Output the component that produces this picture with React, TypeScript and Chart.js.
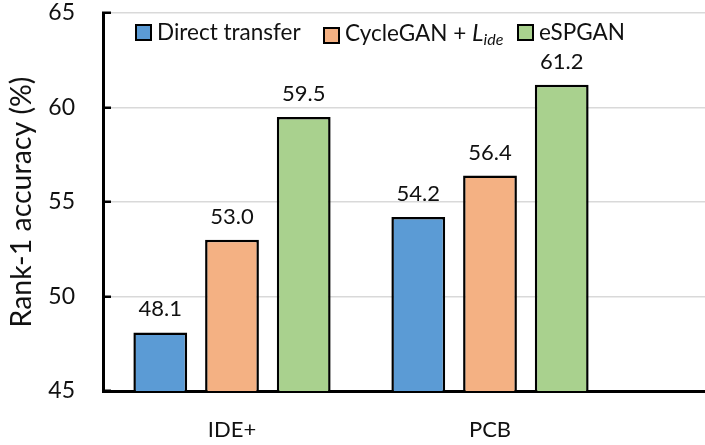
import React, { useEffect, useRef } from "react";
import { Chart, registerables } from "chart.js";

Chart.register(...registerables);

const categories = ["IDE+", "PCB"];
const seriesNames = ["Direct transfer", "CycleGAN +", "eSPGAN"];
const directTransfer = [48.1, 54.2];
const cycleGanLide = [53.0, 56.4];
const espgan = [59.5, 61.2];
const yMin = 45;
const yMax = 65;
const yStep = 5;
const yTitle = "Rank-1 accuracy (%)";

const colors = ["#5b9bd5", "#f4b183", "#a9d18e"];
const FONT = "Lato, 'Open Sans', sans-serif";
const W = 705;
const H = 445;

const alignPx = (p: number, w: number) => Math.round(p - w / 2) + w / 2;

const extendPlugin = {
  id: "extendGrid",
  beforeDatasetsDraw(chart: any) {
    const { ctx, chartArea } = chart;
    const y = chart.scales.y;
    ctx.save();
    ctx.strokeStyle = "#d9d9d9";
    ctx.lineWidth = 1.5;
    y.ticks.forEach((t: any) => {
      if (t.value === y.min) return;
      const py = alignPx(y.getPixelForValue(t.value), 1.5);
      ctx.beginPath();
      ctx.moveTo(chartArea.right, py);
      ctx.lineTo(chart.width, py);
      ctx.stroke();
    });
    ctx.strokeStyle = "#000";
    ctx.lineWidth = 3;
    const by = alignPx(chartArea.bottom, 3);
    ctx.beginPath();
    ctx.moveTo(chartArea.right - 2, by);
    ctx.lineTo(chart.width, by);
    ctx.stroke();
    ctx.restore();
  },
};

const valueLabelPlugin = {
  id: "valueLabels",
  afterDatasetsDraw(chart: any) {
    const { ctx } = chart;
    ctx.save();
    ctx.font = `22px ${FONT}`;
    ctx.fillStyle = "#111";
    ctx.textAlign = "center";
    ctx.textBaseline = "alphabetic";
    chart.data.datasets.forEach((ds: any, i: number) => {
      const meta = chart.getDatasetMeta(i);
      meta.data.forEach((el: any, j: number) => {
        const v = ds.data[j];
        ctx.fillText(Number(v).toFixed(1), el.x, el.y - 16);
      });
    });
    ctx.restore();
  },
};

export default function App() {
  const ref = useRef<HTMLCanvasElement | null>(null);

  useEffect(() => {
    if (!ref.current) return;
    const seriesData = [directTransfer, cycleGanLide, espgan];
    const chart = new Chart(ref.current, {
      type: "bar",
      data: {
        labels: categories,
        datasets: seriesData.map((d, i) => ({
          label: seriesNames[i],
          data: d,
          backgroundColor: colors[i],
          borderColor: "#000",
          borderWidth: 2.5,
          borderSkipped: false,
          categoryPercentage: 0.834,
          barPercentage: 0.75,
        })),
      },
      options: {
        responsive: false,
        animation: false,
        devicePixelRatio: 1,
        layout: { padding: { top: 13, right: 86, bottom: 0, left: 0 } },
        plugins: {
          legend: { display: false },
          tooltip: { enabled: false },
        },
        scales: {
          x: {
            afterFit: (s: any) => {
              s.height = 54;
            },
            grid: { display: false, drawTicks: false },
            border: { display: true, color: "#000", width: 3 },
            ticks: {
              color: "#111",
              font: { family: FONT, size: 22, lineHeight: 1.2 },
              padding: 26,
              maxRotation: 0,
            },
          },
          y: {
            min: yMin,
            max: yMax,
            afterFit: (s: any) => {
              s.width = 103;
              s.paddingTop = 0;
              s.paddingBottom = 0;
            },
            grid: {
              color: "#d9d9d9",
              lineWidth: 1.5,
              tickLength: -8,
              tickColor: "#000",
              tickWidth: 2.5,
            },
            border: { display: true, color: "#000", width: 3 },
            ticks: {
              stepSize: yStep,
              color: "#111",
              font: { family: FONT, size: 23, lineHeight: 1.1 },
              padding: 36,
            },
            title: {
              display: true,
              text: yTitle,
              color: "#111",
              font: { family: FONT, size: 28.5, lineHeight: 1.2 },
              padding: { top: 5, bottom: 0 },
            },
          },
        },
      },
      plugins: [extendPlugin, valueLabelPlugin],
    });
    return () => chart.destroy();
  }, []);

  const legendLefts = [135, 323, 517];

  return (
    <div style={{ position: "fixed", left: 0, top: 0, width: W, height: H, background: "#fff" }}>
      <canvas ref={ref} width={W} height={H} style={{ display: "block", width: W, height: H }} />
      {seriesNames.map((name, i) => (
        <div
          key={name}
          style={{
            position: "absolute",
            left: legendLefts[i],
            top: 20,
            display: "flex",
            alignItems: "center",
            fontFamily: FONT,
            fontSize: 22.5,
            lineHeight: "24px",
            color: "#111",
            whiteSpace: "nowrap",
          }}
        >
          <span
            style={{
              display: "inline-block",
              width: 17,
              height: 17,
              boxSizing: "border-box",
              border: "2.5px solid #000",
              background: colors[i],
              marginRight: 5,
            }}
          />
          <span>
            {name}
            {i === 1 ? (
              <>
                {" "}
                <i style={{ fontSize: 24 }}>L</i>
                <sub style={{ fontStyle: "italic", fontSize: 16, verticalAlign: "-4px" }}>ide</sub>
              </>
            ) : null}
          </span>
        </div>
      ))}
    </div>
  );
}
